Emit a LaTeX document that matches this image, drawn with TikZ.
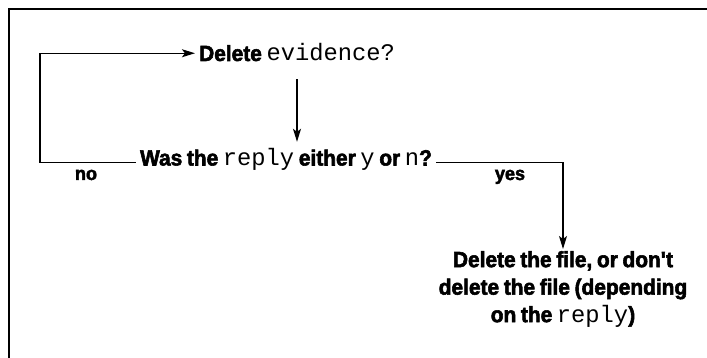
\documentclass[tikz,border=0pt]{standalone}
\usepackage{fontspec}
\setmainfont{Liberation Sans}[FakeStretch=0.95, WordSpace=0.8, BoldFeatures={FakeBold=2.5}]
\setmonofont{Liberation Mono}[Scale=1.08]
\usetikzlibrary{arrows.meta, positioning}

\newcommand{\mono}[1]{{\mdseries\ttfamily #1}}

\begin{document}
\begin{tikzpicture}[
    x=1pt, y=-1pt,
    txt/.style={font=\fontsize{22}{27}\selectfont\bfseries, inner sep=4pt, text height=15.5pt, text depth=0pt},
    outcome/.style={font=\fontsize{22}{27.5}\selectfont\bfseries, inner sep=2pt, align=center},
    lbl/.style={font=\fontsize{19}{22}\selectfont\bfseries, inner sep=1pt, anchor=base},
    flow/.style={line width=1.2pt, -{Stealth[length=13pt, width=8pt, inset=3pt]}},
]
    \useasboundingbox (0,0) rectangle (707,358);
    \draw[line width=1.5pt] (707,9) -- (9,9) -- (9,358);

    \node[txt, anchor=base] (ask) at (297,61) {Delete \mono{evidence?}};
    \node[txt, anchor=base] (reply) at (286,165.5) {Was the \mono{reply} either \mono{y} or \mono{n}?};
    \node[outcome, anchor=north] (result) at (563,249)
        {Delete the file, or don\textquotesingle t\\delete the file (depending\\on the \mono{reply})};

    \coordinate (turn) at (40,0);

    \draw[flow, shorten <=14pt, shorten >=4pt] (ask.south) -- (ask.south |- reply.north);
    \draw[flow] ([yshift=3pt]reply.base west) -- ([yshift=3pt]reply.base west -| turn) |- (ask.west);
    \draw[flow] ([yshift=3pt]reply.base east) -| (result.north);

    \node[lbl] (no) at (86,180) {no};
    \node[lbl] (yes) at (510,180) {yes};
\end{tikzpicture}
\end{document}
